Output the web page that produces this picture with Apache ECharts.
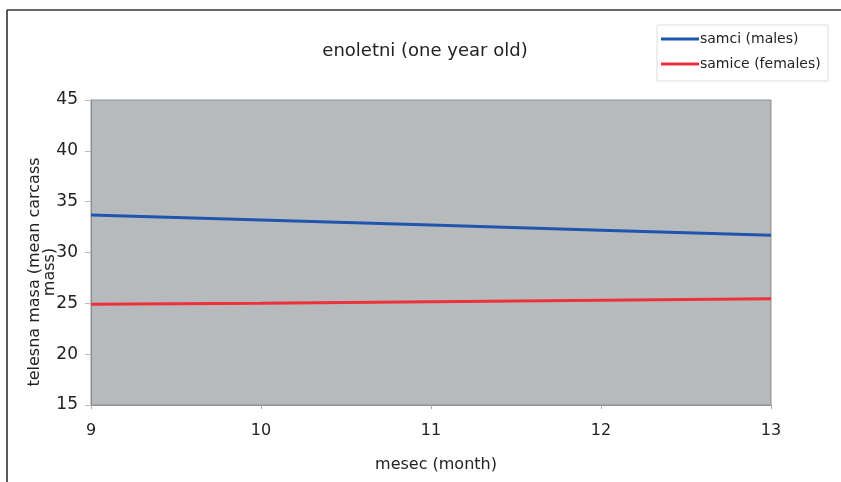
<!DOCTYPE html>
<html><head><meta charset="utf-8">
<script src="https://cdn.jsdelivr.net/npm/echarts@6/dist/echarts.min.js"></script>
<style>html,body{margin:0;padding:0;background:#fff}#c{width:841px;height:482px}</style>
</head><body><div id="c"></div>
<script>
var months = [9, 10, 11, 12, 13];
var males = [33.7, 33.2, 32.7, 32.2, 31.7];
var females = [24.9, 25.0, 25.15, 25.3, 25.45];
var yTicks = [15, 20, 25, 30, 35, 40, 45];

var chart = echarts.init(document.getElementById('c'), null, {renderer: 'canvas'});
var font = 'DejaVu Sans, Liberation Sans, Arial, sans-serif';
function pairs(v) { return months.map(function (m, i) { return [m, v[i]]; }); }

chart.setOption({
  animation: false,
  backgroundColor: '#fff',
  title: {
    text: 'enoletni (one year old)', left: 420, top: 37, textAlign: 'center',
    textStyle: {fontFamily: font, fontSize: 18, fontWeight: 'normal', color: '#222'}
  },
  legend: {
    orient: 'vertical', left: 657, top: 28, itemWidth: 38, itemHeight: 3, itemGap: 11,
    icon: 'rect', padding: [4, 8, 4, 4],
    textStyle: {fontFamily: font, fontSize: 14, color: '#222', padding: [0, 0, 0, -4]},
    data: ['samci (males)', 'samice (females)']
  },
  graphic: [
    {type: 'line', shape: {x1: 7, y1: 10, x2: 841, y2: 10}, style: {stroke: '#666', lineWidth: 2}},
    {type: 'line', shape: {x1: 7, y1: 10, x2: 7, y2: 482}, style: {stroke: '#222', lineWidth: 1.5}},
    {type: 'rect', shape: {x: 657, y: 25, width: 171, height: 56}, style: {fill: 'none', stroke: '#ddd', lineWidth: 1}},
    {type: 'text', x: 42, y: 272, rotation: Math.PI / 2,
     style: {text: 'telesna masa (mean carcass\nmass)', fontFamily: font, fontSize: 16, fill: '#222',
             align: 'center', verticalAlign: 'middle', lineHeight: 15}}
  ],
  grid: {left: 91, right: 70, top: 100, bottom: 77, show: true, backgroundColor: '#b7babd', borderColor: '#8d8f91', borderWidth: 1},
  xAxis: {
    type: 'value', min: 9, max: 13, interval: 1,
    name: 'mesec (month)', nameLocation: 'middle', nameGap: 52,
    nameTextStyle: {fontFamily: font, fontSize: 16, color: '#222', padding: [0, 0, 0, 10]},
    axisLine: {show: true, lineStyle: {color: '#8d8f91'}},
    axisTick: {show: true, length: 4, lineStyle: {color: '#aaa'}},
    axisLabel: {fontFamily: font, fontSize: 16, color: '#222', margin: 18},
    splitLine: {show: false}
  },
  yAxis: {
    type: 'value', min: yTicks[0], max: yTicks[yTicks.length - 1], interval: 5,
    axisLine: {show: true, lineStyle: {color: '#8d8f91'}},
    axisTick: {show: true, length: 6, lineStyle: {color: '#bbb'}},
    axisLabel: {fontFamily: font, fontSize: 17, color: '#222', margin: 13},
    splitLine: {show: false}
  },
  series: [
    {name: 'samci (males)', type: 'line', data: pairs(males), showSymbol: false, color: '#1f55ae',
     lineStyle: {width: 3, color: '#1f55ae'}},
    {name: 'samice (females)', type: 'line', data: pairs(females), showSymbol: false, color: '#ee2f3c',
     lineStyle: {width: 3, color: '#ee2f3c'}}
  ]
});
</script></body></html>
